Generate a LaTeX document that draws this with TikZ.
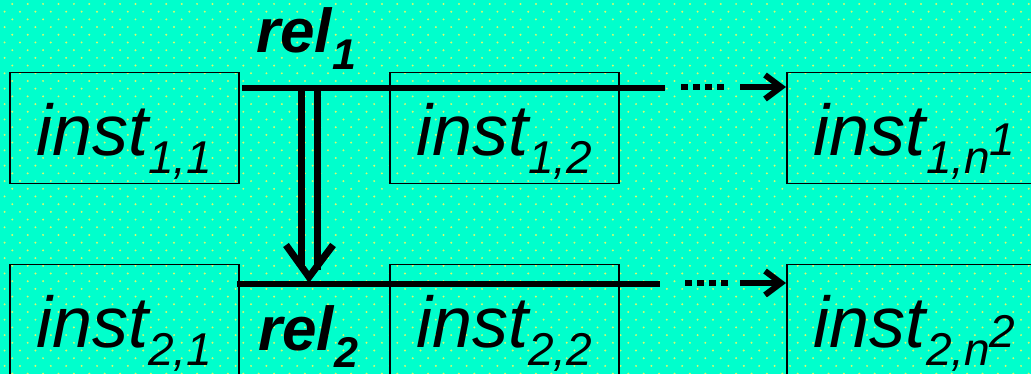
\documentclass[tikz,border=0pt]{standalone}
\usepackage{fontspec}
\setmainfont{Liberation Sans}
\usetikzlibrary{arrows.meta,positioning}

\definecolor{sea}{RGB}{0,255,204}
\definecolor{speck}{RGB}{214,250,110}

% instance and relation labels
\newcommand\instlabel[2]{{\fontsize{72pt}{72pt}\selectfont\itshape inst}%
  \raisebox{-18pt}{\fontsize{46pt}{46pt}\selectfont\itshape #1}%
  {\fontsize{46pt}{46pt}\selectfont\itshape #2}}
\newcommand\rellabel[1]{{\fontsize{62pt}{62pt}\selectfont\bfseries\itshape rel}%
  \raisebox{-17pt}{\fontsize{43pt}{43pt}\selectfont\bfseries\itshape #1}}

\begin{document}
\begin{tikzpicture}[x=1pt,y=-1pt,
box/.style={draw,line width=1.5pt,inner sep=0pt,minimum width=229pt,minimum height=111pt,text height=55pt,text depth=0pt},
relline/.style={line width=6pt},
dots/.style={line width=6pt,dash pattern=on 7pt off 5pt},
arr/.style={line width=6pt,-{Straight Barb[length=16pt,width=24pt]}},
shaft/.style={line width=7pt},
head/.style={line width=7pt,miter limit=10}]
\path[use as bounding box,fill=sea] (0,0) rectangle (1031,374);
\clip (0,0) rectangle (1031,374);
% dotted backdrop
\foreach \r in {0,...,48}{
  \pgfmathsetmacro\dy{4+7.7*\r}
  \pgfmathsetmacro\dx{mod(\r,2)==1 ? 4.6 : 12.3}
  \foreach \c in {0,...,67}
    \fill[speck] ({\dx+15.4*\c},\dy) circle (1.1pt);
}
% instances
\node[box,anchor=north west] (inst11) at (9,72) {\instlabel{1,1}{}};
\node[box,right=149.5pt of inst11] (inst12) {\instlabel{1,2}{}};
\node[box,minimum width=256pt,right=166.5pt of inst12] (inst1n) {\instlabel{1,n}{1}};
\node[box,below=79.5pt of inst11] (inst21) {\instlabel{2,1}{}};
\node[box,below=79.5pt of inst12] (inst22) {\instlabel{2,2}{}};
\node[box,minimum width=256pt,below=79.5pt of inst1n] (inst2n) {\instlabel{2,n}{2}};
% relations
\node[anchor=base west,inner sep=0pt] (rel1) at (256,53) {\rellabel{1}};
\node[anchor=base west,inner sep=0pt] (rel2) at (258,350) {\rellabel{2}};
\coordinate (s1) at (242,88); \coordinate (e1) at (665,88);
\coordinate (d1) at (681,87); \coordinate (f1) at (724,87); \coordinate (g1) at (740,87);
\coordinate (s2) at (237,284); \coordinate (e2) at (660,284);
\coordinate (d2) at (685,283); \coordinate (f2) at (728,283); \coordinate (g2) at (740,283);
\draw[relline](s1)--(e1);\draw[dots](d1)--(f1);\draw[arr](g1)--(g1-|inst1n.west);
\draw[relline](s2)--(e2);\draw[dots](d2)--(f2);\draw[arr](g2)--(g2-|inst2n.west);
% rel1 implies rel2
\coordinate (t1) at (309,88); \coordinate (t2) at (309,277);
\draw[shaft]([xshift=-8pt]t1)--([xshift=-8pt,yshift=5pt]t2|-0,270);
\draw[shaft]([xshift=8pt]t1)--([xshift=8pt]t2|-0,270);
\draw[head]([xshift=-23pt,yshift=32pt]t2)--(t2)--([xshift=24pt,yshift=32pt]t2);
\end{tikzpicture}
\end{document}
